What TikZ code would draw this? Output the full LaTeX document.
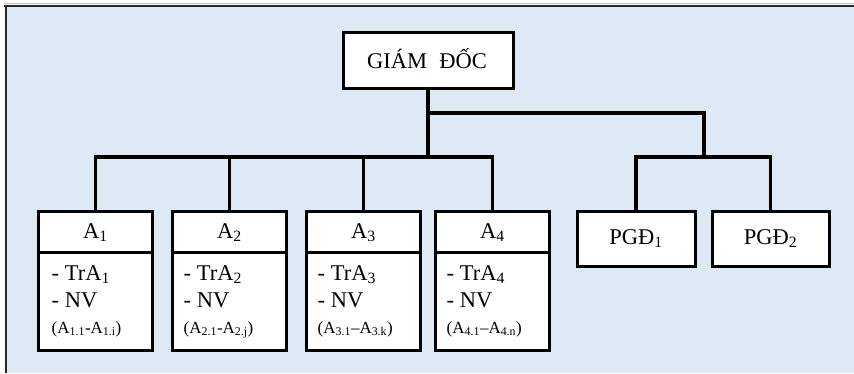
\documentclass[tikz,border=0pt]{standalone}
\usepackage{fontspec}
\setmainfont{Liberation Serif}
\newcommand{\sbs}[1]{\textsubscript{#1}}
\definecolor{bgblue}{RGB}{221,234,246}
\definecolor{frame}{RGB}{40,40,40}
\begin{document}
\begin{tikzpicture}[x=1pt,y=1pt,
  box/.style={draw=black,fill=white,line width=3pt,inner sep=0pt,outer sep=0pt},
  conn/.style={draw=black,line width=3.8pt,line join=miter},
  big/.style={font=\fontsize{22.5}{26}\selectfont,inner sep=0pt},
  small/.style={font=\fontsize{17}{20}\selectfont,inner sep=0pt}]
\useasboundingbox (0,0) rectangle (854,373);
\fill[white] (0,0) rectangle (854,373);
\fill[bgblue] (6,0) rectangle (854,367);
\draw[black!25,line width=1.5pt] (4,369.5) -- (854,369.5);
\draw[frame,line width=2.5pt] (4,367) -- (854,367);
\draw[frame,line width=2.5pt] (6,368) -- (6,0);

% director
\node[box,minimum width=170,minimum height=56] (gd) at (428,312) {};
\node[big,anchor=base] (gdt) at (427,305) {GIÁM\hspace{0.55em}ĐỐC};

% department boxes
\foreach \n/\x in {1/95.5,2/229.5,3/363.5,4/492.5}{
  \node[box,minimum width=114,minimum height=41] (a\n h) at (\x,141.5) {};
  \node[box,minimum width=114,minimum height=98] (a\n b) at (\x,72) {};
  \node[big,anchor=base] (a\n t) at (\x,135) {A\sbs{\n}};
}
\node[big,anchor=base west] (a1l1) at ([xshift=13]a1b.west |- 0,93) {- TrA\sbs{1}};
\node[big,anchor=base west] (a1l2) at ([xshift=13]a1b.west |- 0,66) {- NV};
\node[small,anchor=base west] (a1l3) at ([xshift=13]a1b.west |- 0,40) {(A\sbs{1.1}-A\sbs{1.i})};
\node[big,anchor=base west] (a2l1) at ([xshift=11]a2b.west |- 0,93) {- TrA\sbs{2}};
\node[big,anchor=base west] (a2l2) at ([xshift=11]a2b.west |- 0,66) {- NV};
\node[small,anchor=base west] (a2l3) at ([xshift=11]a2b.west |- 0,40) {(A\sbs{2.1}-A\sbs{2.j})};
\node[big,anchor=base west] (a3l1) at ([xshift=11]a3b.west |- 0,93) {- TrA\sbs{3}};
\node[big,anchor=base west] (a3l2) at ([xshift=11]a3b.west |- 0,66) {- NV};
\node[small,anchor=base west] (a3l3) at ([xshift=11]a3b.west |- 0,40) {(A\sbs{3.1}–A\sbs{3.k})};
\node[big,anchor=base west] (a4l1) at ([xshift=11]a4b.west |- 0,93) {- TrA\sbs{4}};
\node[big,anchor=base west] (a4l2) at ([xshift=11]a4b.west |- 0,66) {- NV};
\node[small,anchor=base west] (a4l3) at ([xshift=11]a4b.west |- 0,40) {(A\sbs{4.1}–A\sbs{4.n})};

% deputy directors
\node[box,minimum width=118,minimum height=55] (p1) at (636,134.5) {};
\node[box,minimum width=117,minimum height=55] (p2) at (770.5,134.5) {};
\node[big,anchor=base] (p1t) at (636,129) {PGĐ\sbs{1}};
\node[big,anchor=base] (p2t) at (770.5,129) {PGĐ\sbs{2}};

% connectors
\coordinate (lbus) at (0,216);
\coordinate (rj) at (0,260);
\coordinate (pj) at (704,216);
\draw[conn] (gd.south) -- (gd.south |- lbus);
\draw[conn] (a1h.north) |- (a4h.north |- lbus) -- (a4h.north);
\draw[conn] (a2h.north) -- (a2h.north |- lbus);
\draw[conn] (a3h.north) -- (a3h.north |- lbus);
\draw[conn] (gd.south |- rj) -| (pj);
\draw[conn] (p1.north) |- (p2.north |- lbus) -- (p2.north);
\end{tikzpicture}
\end{document}
